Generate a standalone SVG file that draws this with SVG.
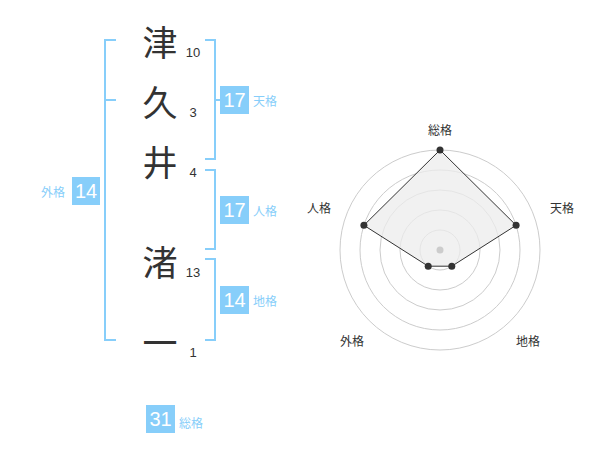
<svg xmlns="http://www.w3.org/2000/svg" width="600" height="470" viewBox="0 0 600 470">
<style>
.ch{font-family:"Noto Sans CJK JP","Noto Sans CJK SC",sans-serif;font-size:35px;fill:#333;text-anchor:middle;dominant-baseline:central}
.num{font-family:"Liberation Sans",Arial,sans-serif;font-size:13px;fill:#333;text-anchor:middle}
.br{fill:none;stroke:#87cefa;stroke-width:2}
.box{fill:#87cefa}
.bn{font-family:"Liberation Sans",Arial,sans-serif;font-size:20px;fill:#fff;text-anchor:middle}
.bl{font-family:"Noto Sans CJK JP","Noto Sans CJK SC",sans-serif;font-size:12px;fill:#87cefa}
.ring{fill:none;stroke:#ccc;stroke-width:1}
.rl{font-family:"Noto Sans CJK JP","Noto Sans CJK SC",sans-serif;font-size:12px;fill:#333;text-anchor:middle}
</style>
<rect width="600" height="470" fill="#fff"/>
<g id="chars">
<g id="c1"><text class="ch" x="160" y="40">津</text><text class="num" x="193" y="57">10</text></g>
<g id="c2"><text class="ch" x="160" y="100">久</text><text class="num" x="193" y="117">3</text></g>
<g id="c3"><text class="ch" x="160" y="160">井</text><text class="num" x="193" y="177">4</text></g>
<g id="c4"><text class="ch" x="160" y="260">渚</text><text class="num" x="193" y="277">13</text></g>
<g id="c5"><text class="ch" x="160" y="340">一</text><text class="num" x="193" y="357">1</text></g>
</g>
<g id="connectors">
<path class="br" d="M116,40 H105 V340 H116 M105,100 H116"/>
<path class="br" d="M205,40 H215 V159 H205 M215,100 H220"/>
<path class="br" d="M205,170 H215 V249 H205"/>
<path class="br" d="M205,259 H215 V340 H205"/>
</g>
<g id="tenkaku"><rect class="box" x="220" y="86" width="29" height="28"/><text class="bn" x="234.5" y="107">17</text><text class="bl" x="253" y="106">天格</text></g>
<g id="jinkaku"><rect class="box" x="220" y="196" width="29" height="28"/><text class="bn" x="234.5" y="217">17</text><text class="bl" x="253" y="216">人格</text></g>
<g id="chikaku"><rect class="box" x="220" y="286" width="29" height="28"/><text class="bn" x="234.5" y="307">14</text><text class="bl" x="253" y="306">地格</text></g>
<g id="gaikaku"><rect class="box" x="72" y="177" width="28" height="28"/><text class="bn" x="86" y="198">14</text><text class="bl" x="41" y="197">外格</text></g>
<g id="soukaku"><rect class="box" x="146" y="405" width="29" height="28"/><text class="bn" x="160.5" y="426">31</text><text class="bl" x="179" y="428">総格</text></g>
<g id="radar">
<circle class="ring" cx="440" cy="250" r="20"/>
<circle class="ring" cx="440" cy="250" r="40"/>
<circle class="ring" cx="440" cy="250" r="60"/>
<circle class="ring" cx="440" cy="250" r="80"/>
<circle class="ring" cx="440" cy="250" r="100"/>
<polygon points="440,150 516.1,225.3 451.8,266.2 428.2,266.2 363.9,225.3" fill="#ececec" fill-opacity="0.75" stroke="#333" stroke-width="1"/>
<circle cx="440" cy="250" r="3.5" fill="#ccc"/>
<g fill="#333">
<circle cx="440" cy="150" r="3.5"/>
<circle cx="516.1" cy="225.3" r="3.5"/>
<circle cx="451.8" cy="266.2" r="3.5"/>
<circle cx="428.2" cy="266.2" r="3.5"/>
<circle cx="363.9" cy="225.3" r="3.5"/>
</g>
<text class="rl" x="440" y="135">総格</text>
<text class="rl" x="562" y="213">天格</text>
<text class="rl" x="528" y="346">地格</text>
<text class="rl" x="352" y="346">外格</text>
<text class="rl" x="319" y="213">人格</text>
</g>
</svg>
